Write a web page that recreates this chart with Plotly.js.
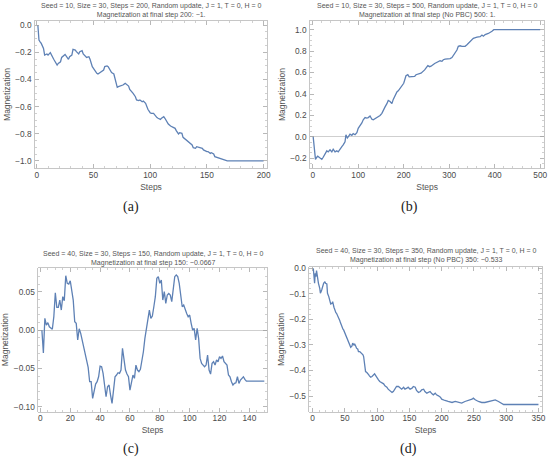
<!DOCTYPE html>
<html>
<head>
<meta charset="utf-8">
<script src="https://cdn.plot.ly/plotly-3.0.1.min.js"></script>
<style>html,body{margin:0;padding:0;background:#fff}#chart{width:550px;height:461px}</style>
</head>
<body>
<div id="chart"></div>
<script>
// ---- data: [step, magnetization] ----
const panelA = [[1,0],[2,-0.110],[3,-0.123],[4,-0.135],[6,-0.172],[7,-0.221],[9,-0.213],[10,-0.221],[12,-0.203],[13,-0.221],[15,-0.252],[18,-0.294],[19,-0.282],[21,-0.270],[22,-0.238],[25,-0.216],[26,-0.228],[28,-0.252],[29,-0.233],[31,-0.221],[32,-0.179],[34,-0.184],[35,-0.196],[37,-0.213],[38,-0.196],[40,-0.189],[41,-0.213],[43,-0.228],[44,-0.238],[46,-0.233],[47,-0.252],[49,-0.306],[50,-0.319],[51,-0.331],[53,-0.355],[54,-0.360],[56,-0.350],[57,-0.343],[59,-0.331],[60,-0.306],[62,-0.301],[63,-0.306],[65,-0.336],[66,-0.350],[68,-0.360],[69,-0.392],[71,-0.458],[72,-0.453],[74,-0.449],[75,-0.446],[76,-0.441],[78,-0.429],[79,-0.434],[81,-0.449],[82,-0.473],[84,-0.490],[85,-0.502],[87,-0.527],[88,-0.551],[90,-0.556],[91,-0.551],[93,-0.564],[94,-0.559],[96,-0.576],[97,-0.605],[98,-0.620],[100,-0.645],[101,-0.650],[103,-0.650],[104,-0.662],[106,-0.681],[107,-0.686],[109,-0.694],[110,-0.686],[112,-0.674],[113,-0.686],[115,-0.711],[116,-0.728],[118,-0.743],[119,-0.748],[121,-0.752],[122,-0.760],[123,-0.777],[125,-0.801],[126,-0.792],[128,-0.797],[129,-0.826],[131,-0.841],[132,-0.850],[134,-0.865],[135,-0.870],[137,-0.882],[138,-0.902],[140,-0.907],[141,-0.895],[143,-0.902],[144,-0.900],[146,-0.907],[147,-0.919],[148,-0.924],[150,-0.931],[151,-0.931],[153,-0.944],[154,-0.939],[156,-0.949],[157,-0.968],[159,-0.973],[160,-0.975],[163,-0.985],[166,-0.995],[168,-1.0],[200,-1.0]];

const panelB = [[1,0],[3,-0.12],[4,-0.14],[6,-0.21],[9,-0.19],[11,-0.18],[14,-0.19],[17,-0.20],[20,-0.21],[23,-0.19],[27,-0.16],[31,-0.13],[34,-0.14],[38,-0.12],[42,-0.14],[45,-0.115],[49,-0.14],[53,-0.13],[56,-0.14],[60,-0.11],[64,-0.09],[67,-0.075],[71,-0.045],[73,0.02],[76,-0.01],[78,0.0],[82,0.025],[86,0.015],[89,0.03],[93,0.02],[97,0.04],[100,0.08],[104,0.10],[108,0.13],[111,0.16],[115,0.18],[119,0.175],[122,0.18],[126,0.195],[130,0.165],[133,0.16],[137,0.17],[141,0.18],[144,0.19],[148,0.20],[152,0.22],[155,0.25],[159,0.28],[163,0.31],[166,0.34],[170,0.33],[174,0.31],[177,0.35],[181,0.39],[185,0.42],[188,0.43],[192,0.45],[196,0.48],[200,0.50],[205,0.57],[209,0.58],[212,0.56],[218,0.56],[224,0.565],[227,0.58],[231,0.585],[238,0.595],[246,0.625],[249,0.64],[253,0.665],[257,0.655],[260,0.66],[268,0.685],[275,0.70],[280,0.71],[284,0.705],[287,0.72],[291,0.725],[298,0.725],[302,0.73],[306,0.74],[313,0.78],[317,0.81],[320,0.845],[324,0.85],[328,0.845],[331,0.845],[335,0.845],[339,0.86],[346,0.89],[353,0.92],[361,0.93],[368,0.935],[372,0.95],[375,0.94],[379,0.955],[386,0.965],[394,0.985],[398,1.0],[500,1.0]];

const panelC = [[1,0],[2,-0.03],[3,0.0152],[4,0.0065],[5,0.0096],[6,0.0043],[8,0.001],[9,0.0174],[10,0.0487],[11,0.0296],[12,0.0296],[13,0.0391],[14,0.0261],[15,0.0435],[16,0.0383],[17,0.0709],[18,0.0609],[19,0.060],[20,0.0643],[21,0.0522],[22,0.0391],[23,0.0109],[24,0.0087],[25,-0.013],[26,0.0017],[27,-0.0043],[28,-0.013],[29,-0.0196],[30,-0.0326],[31,-0.04],[32,-0.0487],[33,-0.0674],[34,-0.0674],[35,-0.0891],[36,-0.0783],[37,-0.0704],[38,-0.0674],[39,-0.0609],[40,-0.047],[41,-0.0478],[42,-0.0565],[43,-0.0739],[44,-0.087],[45,-0.0739],[46,-0.0717],[47,-0.0848],[48,-0.0957],[49,-0.0783],[50,-0.0609],[51,-0.0587],[52,-0.0557],[53,-0.0565],[54,-0.0522],[55,-0.0239],[56,-0.037],[57,-0.0522],[58,-0.0574],[59,-0.0609],[60,-0.0783],[61,-0.0674],[62,-0.0587],[63,-0.063],[64,-0.0457],[65,-0.0522],[66,-0.0543],[67,-0.0513],[68,-0.0413],[69,-0.0283],[70,-0.0109],[71,0.0009],[72,0.0183],[73,0.0261],[74,0.0152],[75,0.0183],[76,0.0304],[77,0.0435],[78,0.0674],[79,0.0696],[80,0.0609],[81,0.0652],[82,0.0391],[83,0.05],[84,0.0348],[85,0.0457],[86,0.0478],[87,0.0457],[88,0.037],[89,0.0543],[90,0.0696],[91,0.0717],[92,0.0696],[93,0.0609],[94,0.0435],[95,0.0304],[96,0.0326],[97,0.0261],[98,0.0217],[99,0.0174],[100,0.0196],[101,0.0087],[102,0],[103,0.0022],[104,-0.013],[105,0.0022],[106,-0.0109],[107,-0.037],[108,-0.0435],[109,-0.0457],[110,-0.0478],[111,-0.0457],[112,-0.0326],[113,-0.0522],[114,-0.0574],[115,-0.0435],[116,-0.0413],[117,-0.0457],[118,-0.0391],[119,-0.0413],[120,-0.0348],[121,-0.037],[122,-0.0339],[123,-0.0413],[124,-0.0435],[125,-0.0457],[126,-0.0587],[127,-0.0609],[128,-0.0674],[129,-0.0717],[130,-0.0696],[131,-0.0687],[132,-0.0609],[133,-0.0696],[134,-0.0652],[135,-0.063],[136,-0.0609],[137,-0.0643],[138,-0.0667],[150,-0.0667]];

const panelD = [[1,0],[3,-0.0587],[4,-0.0196],[5,-0.0326],[6,-0.0091],[7,-0.0326],[8,-0.0456],[9,-0.0587],[11,-0.0782],[12,-0.0978],[14,-0.0847],[16,-0.0652],[17,-0.0587],[19,-0.0522],[20,-0.0587],[22,-0.0613],[23,-0.0978],[25,-0.1108],[26,-0.1239],[28,-0.1395],[30,-0.1369],[31,-0.1304],[33,-0.1525],[34,-0.163],[36,-0.1734],[37,-0.176],[39,-0.1864],[40,-0.189],[42,-0.2047],[43,-0.2125],[45,-0.2282],[47,-0.2386],[48,-0.2412],[50,-0.2542],[51,-0.2608],[53,-0.2738],[54,-0.2829],[56,-0.2934],[57,-0.3038],[59,-0.309],[61,-0.3038],[62,-0.2934],[64,-0.2999],[65,-0.296],[67,-0.3064],[68,-0.3129],[70,-0.3168],[71,-0.326],[73,-0.326],[75,-0.3299],[76,-0.3351],[78,-0.339],[79,-0.3455],[81,-0.3781],[82,-0.4042],[84,-0.4081],[85,-0.4133],[87,-0.4172],[88,-0.4211],[90,-0.4263],[92,-0.4237],[93,-0.4211],[95,-0.4172],[96,-0.4133],[98,-0.4211],[99,-0.4263],[102,-0.4368],[104,-0.4433],[107,-0.4472],[110,-0.4524],[112,-0.4602],[115,-0.4655],[117,-0.4733],[120,-0.4785],[123,-0.4863],[125,-0.4824],[128,-0.4733],[130,-0.4628],[133,-0.4628],[136,-0.4694],[138,-0.4733],[141,-0.4655],[143,-0.4733],[146,-0.4694],[148,-0.4655],[151,-0.4733],[154,-0.4694],[156,-0.4628],[159,-0.4655],[161,-0.4785],[164,-0.4863],[167,-0.4824],[169,-0.4759],[172,-0.4733],[174,-0.4824],[177,-0.4889],[179,-0.4863],[182,-0.4824],[185,-0.4915],[187,-0.4954],[190,-0.4889],[192,-0.4954],[195,-0.4993],[198,-0.5046],[200,-0.5124],[203,-0.5176],[205,-0.5176],[210,-0.5215],[216,-0.5254],[221,-0.5215],[226,-0.5254],[231,-0.528],[236,-0.5215],[242,-0.5176],[247,-0.5124],[249,-0.5085],[252,-0.515],[257,-0.5215],[262,-0.5254],[267,-0.5254],[273,-0.5215],[278,-0.5176],[283,-0.515],[288,-0.5215],[293,-0.528],[296,-0.5333],[350,-0.5333]];

const titleLine1 = [
  'Seed = 10, Size = 30, Steps = 200, Random update, J = 1, T = 0, H = 0',
  'Seed = 10, Size = 30, Steps = 500, Random update, J = 1, T = 0, H = 0',
  'Seed = 40, Size = 30, Steps = 150, Random update, J = 1, T = 0, H = 0',
  'Seed = 40, Size = 30, Steps = 350, Random update, J = 1, T = 0, H = 0'
];
const titleLine2 = [
  'Magnetization at final step 200: \u22121.',
  'Magnetization at final step (No PBC) 500: 1.',
  'Magnetization at final step 150: \u22120.0667',
  'Magnetization at final step (No PBC) 350: \u22120.533'
];
const panelLabels = ['(a)', '(b)', '(c)', '(d)'];
const xTitle = 'Steps';
const yTitle = 'Magnetization';

// ---- layout geometry (pixels in a 550x461 figure) ----
const W = 550, H = 461;
const frames = [ // [left, right, top, bottom]
  [35, 267, 20.7, 168.3],
  [310, 544.3, 20.7, 168.3],
  [38.3, 266.7, 267.7, 411.7],
  [309.3, 541.7, 267.3, 411.7]
];
const xRanges = [[-1.5, 203], [-6, 509], [-1.4, 151.6], [-5.2, 355]];
const yRanges = [[-1.054, 0.032], [-0.293, 1.084], [-0.1065, 0.0813], [-0.5615, 0.004]];
const xDt = [[50, 10], [100, 20], [20, 5], [50, 10]];
const yDt = [[0.2, 0.05], [0.2, 0.05], [0.05, 0.01], [0.1, 0.02]];
const yFmt = ['.1f', '.1f', '.2f', '.1f'];
const zeroLine = [false, true, true, false];
const titleCentersY = [10.6, 10.6, 258.7, 255.6];
const labelPos = [[131, 207], [409, 207], [131, 449], [408, 449]];

const panels = [panelA, panelB, panelC, panelD];
const sans = 'Liberation Sans, Arial, sans-serif';
const traces = [];
const layout = {
  width: W, height: H,
  margin: {l: 0, r: 0, t: 0, b: 0},
  paper_bgcolor: '#fff', plot_bgcolor: '#fff',
  showlegend: false,
  annotations: []
};

panels.forEach((p, i) => {
  const n = i === 0 ? '' : String(i + 1);
  traces.push({
    type: 'scatter', mode: 'lines',
    x: p.map(d => d[0]), y: p.map(d => d[1]),
    xaxis: 'x' + n, yaxis: 'y' + n,
    line: {color: '#5E81B5', width: 1.3},
    hoverinfo: 'x+y'
  });
  const f = frames[i];
  const common = {
    ticks: 'inside', ticklen: 4, tickwidth: 0.7, tickcolor: '#9a9a9a',
    mirror: 'ticks', showline: true, linecolor: '#b8b8b8', linewidth: 0.8,
    showgrid: false, tick0: 0,
    tickfont: {family: sans, size: 8.3, color: '#4a4a4a'}
  };
  layout['xaxis' + n] = Object.assign({}, common, {
    domain: [f[0] / W, f[1] / W], range: xRanges[i], anchor: 'y' + n,
    dtick: xDt[i][0], zeroline: false, ticklabelstandoff: -1,
    minor: {ticks: 'inside', ticklen: 2, tickwidth: 0.6, tickcolor: '#b0b0b0', dtick: xDt[i][1], showgrid: false},
    title: {text: xTitle, font: {family: sans, size: 8.5, color: '#555'}, standoff: 4}
  });
  layout['yaxis' + n] = Object.assign({}, common, {
    domain: [1 - f[3] / H, 1 - f[2] / H], range: yRanges[i], anchor: 'x' + n,
    dtick: yDt[i][0], tickformat: yFmt[i], ticklabelstandoff: 1,
    zeroline: zeroLine[i], zerolinecolor: '#cfcfcf', zerolinewidth: 1,
    minor: {ticks: 'inside', ticklen: 2, tickwidth: 0.6, tickcolor: '#b0b0b0', dtick: yDt[i][1], showgrid: false},
    title: {text: yTitle, font: {family: sans, size: 8.5, color: '#555'}, standoff: 3}
  });
  layout.annotations.push({
    xref: 'paper', yref: 'paper',
    x: (f[0] + f[1]) / 2 / W, y: 1 - titleCentersY[i] / H,
    xanchor: 'center', yanchor: 'middle', showarrow: false,
    text: titleLine1[i] + '<br>' + titleLine2[i],
    font: {family: sans, size: 7, color: '#555'}
  });
  layout.annotations.push({
    xref: 'paper', yref: 'paper',
    x: labelPos[i][0] / W, y: 1 - labelPos[i][1] / H,
    xanchor: 'center', yanchor: 'middle', showarrow: false,
    text: panelLabels[i],
    font: {family: 'Liberation Serif, DejaVu Serif, serif', size: 14, color: '#222'}
  });
});

Plotly.newPlot('chart', traces, layout, {staticPlot: true, displayModeBar: false});
</script>
</body>
</html>
